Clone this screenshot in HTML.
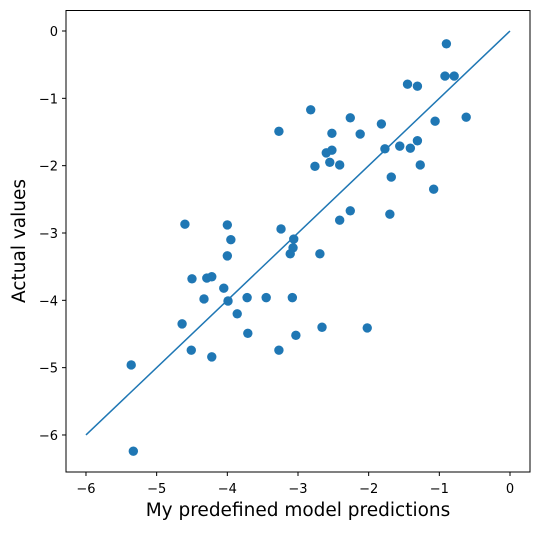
<!DOCTYPE html>
<html><head><meta charset="utf-8"><style>
body{margin:0;background:#fff;font-family:"DejaVu Sans","Liberation Sans",sans-serif}
svg text{font-family:"DejaVu Sans","Liberation Sans",sans-serif}
</style></head><body>
<svg id="c" width="539" height="530" xmlns="http://www.w3.org/2000/svg"></svg>
<script>
const predicted=[-0.90,-0.92,-0.79,-1.45,-1.31,-2.82,-2.26,-0.62,-1.06,-3.27,-2.52,-1.82,-2.12,-1.31,-1.41,-1.56,-1.77,-2.60,-2.52,-1.27,-2.55,-2.76,-2.41,-1.68,-1.08,-1.70,-2.26,-2.41,-4.60,-4.00,-3.24,-3.06,-3.95,-3.07,-4.00,-2.69,-3.11,-4.50,-4.29,-4.22,-4.33,-4.05,-3.08,-3.45,-3.72,-3.99,-3.86,-3.71,-4.64,-4.51,-4.22,-3.03,-3.27,-2.66,-2.02,-5.36,-5.33];
const actual=[-0.19,-0.67,-0.67,-0.79,-0.82,-1.17,-1.29,-1.28,-1.34,-1.49,-1.52,-1.38,-1.53,-1.63,-1.74,-1.71,-1.75,-1.81,-1.77,-1.99,-1.95,-2.01,-1.99,-2.17,-2.35,-2.72,-2.67,-2.81,-2.87,-2.88,-2.94,-3.09,-3.10,-3.22,-3.34,-3.31,-3.31,-3.68,-3.67,-3.65,-3.98,-3.82,-3.96,-3.96,-3.96,-4.01,-4.20,-4.49,-4.35,-4.74,-4.84,-4.52,-4.74,-4.40,-4.41,-4.96,-6.24];
const xTicks=[-6,-5,-4,-3,-2,-1,0];
const yTicks=[0,-1,-2,-3,-4,-5,-6];
const ns="http://www.w3.org/2000/svg",svg=document.getElementById('c');
const X=v=>510+v*70.67, Y=v=>31-v*67.33;
function mk(t,a,p){const e=document.createElementNS(ns,t);for(const k in a)e.setAttribute(k,a[k]);(p||svg).appendChild(e);return e;}
const frame=mk('rect',{x:66,y:10.5,width:464,height:461.5,fill:'none',stroke:'#000','stroke-width':1});


xTicks.forEach(t=>{
 const l=mk('line',{x1:X(t),x2:X(t),y1:472,y2:476,stroke:'#000'});
 
 
 const tx=mk('text',{x:X(t),y:493,'text-anchor':'middle','font-size':13});tx.textContent=t===0?'0':'\u2212'+Math.abs(t);
 
 
});
yTicks.forEach(t=>{
 const l=mk('line',{x1:62,x2:66,y1:Y(t),y2:Y(t),stroke:'#000'});
 
 
 const tx=mk('text',{x:58,y:Y(t)+5,'text-anchor':'end','font-size':13});tx.textContent=t===0?'0':'\u2212'+Math.abs(t);
 
 
});
const ln=mk('line',{x1:X(-6),y1:Y(-6),x2:X(0),y2:Y(0),stroke:'#1f77b4','stroke-width':1.5});


predicted.forEach((p,i)=>{
 const c=mk('circle',{cx:X(p),cy:Y(actual[i]),r:4.7,fill:'#1f77b4'});
 
 
});
const xt=mk('text',{x:298,y:516,'text-anchor':'middle','font-size':18.5});xt.textContent='My predefined model predictions';


const yt=mk('text',{x:0,y:0,'text-anchor':'middle','font-size':18.5,transform:'translate(25,241) rotate(-90)'});yt.textContent='Actual values';


</script>
</body></html>
